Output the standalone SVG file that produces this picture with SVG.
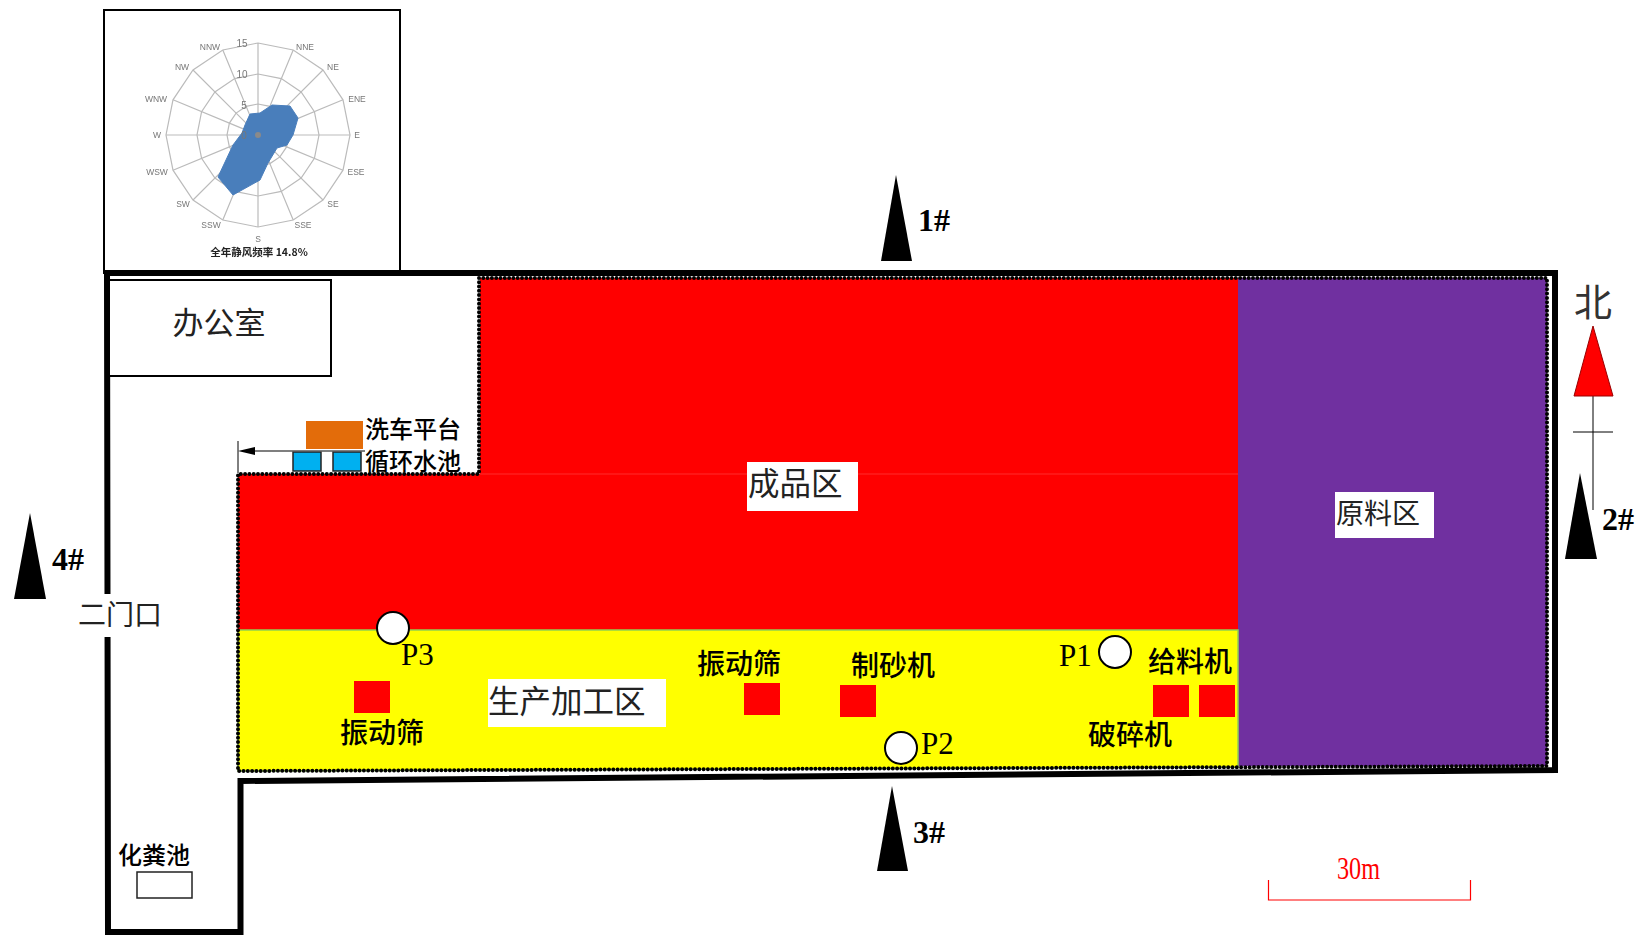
<svg xmlns="http://www.w3.org/2000/svg" width="1642" height="937" viewBox="0 0 1642 937">
<style>
text{font-family:"Liberation Serif","Noto Sans CJK SC",serif}
.zh{font-family:"Noto Sans CJK SC","Liberation Sans",sans-serif;fill:#000}
.thin{font-size:31px;fill:#222}
.lab{font-size:28px;font-weight:500}
.num{font-size:32px;font-weight:700;fill:#000}
.p{font-size:31px;fill:#000}
.tri{fill:#000}
.sq{fill:#f00}
.pt{fill:#fff;stroke:#000;stroke-width:2}
.wall{fill:none;stroke:#000;stroke-width:6;stroke-linejoin:miter}
.dots{fill:none;stroke:#000;stroke-width:4;stroke-linecap:round;stroke-dasharray:0 4.300}
.ring{fill:none;stroke:#bbb;stroke-width:1.2}
.r{font-family:"Liberation Sans",sans-serif;font-size:8.5px;fill:#777;text-anchor:middle}
.pool{fill:#00b0f0;stroke:#222;stroke-width:1.5}
</style>
<defs>
<filter id="soft" x="-5%" y="-5%" width="110%" height="110%"><feGaussianBlur stdDeviation="0.35"/></filter>
</defs>
<rect width="1642" height="937" fill="#fff"/>

<g id="wind-rose">
<rect x="104" y="10" width="296" height="263" fill="#fff" stroke="#000" stroke-width="2"/>
<g filter="url(#soft)">
<g transform="translate(258,135)">
<polygon class="ring" points="0,-92 35.2,-85 65,-65 85,-35.2 92,0 85,35.2 65,65 35.2,85 0,92 -35.2,85 -65,65 -85,35.2 -92,0 -85,-35.2 -65,-65 -35.2,-85"/>
<polygon class="ring" points="0,-61 23.3,-56.400 43.100,-43.100 56.400,-23.300 61,0 56.400,23.300 43.100,43.100 23.300,56.400 0,61 -23.300,56.400 -43.100,43.100 -56.400,23.300 -61,0 -56.400,-23.300 -43.100,-43.100 -23.300,-56.400"/>
<polygon class="ring" points="0,-31 11.900,-28.600 21.900,-21.900 28.600,-11.900 31,0 28.600,11.900 21.900,21.900 11.900,28.600 0,31 -11.900,28.600 -21.900,21.900 -28.600,11.900 -31,0 -28.600,-11.900 -21.900,-21.900 -11.900,-28.600"/>
<path d="M0,-92V92M-92,0H92M-35.2,-85L35.2,85M35.2,-85L-35.2,85M-65,-65L65,65M65,-65L-65,65M-85,-35.2L85,35.2M85,-35.2L-85,35.2" fill="none" stroke="#bbb" stroke-width="1.2"/>
</g>
<polygon points="272,105 290,106 298,118 293,135 287,145 277,148 268,163 260,180 233,195 218,177 233,145 242,133 245,125 250,114 260,113" fill="#4a7ebb" stroke="#4a7ebb"/>
<circle cx="258" cy="135" r="3" fill="#8a8a8a"/>
<text class="r" x="210" y="50">NNW</text><text class="r" x="242" y="47" style="font-size:10px">15</text><text class="r" x="305" y="50">NNE</text>
<text class="r" x="182" y="70">NW</text><text class="r" x="333" y="70">NE</text><text class="r" x="242" y="78" style="font-size:10px">10</text>
<text class="r" x="156" y="102">WNW</text><text class="r" x="357" y="102">ENE</text><text class="r" x="244" y="109" style="font-size:10px">5</text>
<text class="r" x="157" y="138">W</text><text class="r" x="357" y="138">E</text><text class="r" x="244" y="139" style="font-size:10px">0</text>
<text class="r" x="157" y="175">WSW</text><text class="r" x="356" y="175">ESE</text>
<text class="r" x="183" y="207">SW</text><text class="r" x="333" y="207">SE</text>
<text class="r" x="211" y="228">SSW</text><text class="r" x="303" y="228">SSE</text>
<text class="r" x="258" y="242">S</text>
<text x="259" y="256" text-anchor="middle" style="font-family:'Noto Sans CJK SC','Liberation Sans',sans-serif;font-size:10.5px;font-weight:700;fill:#222">全年静风频率 14.8%</text>
</g>
</g>

<g id="zones">
<polygon id="finished-zone" points="480,278 1238,278 1238,630 238,630 238,474 480,474" fill="#f00"/>
<path d="M480,474H1238" stroke="#ff4040" stroke-width="0.7"/>
<rect id="raw-zone" x="1238" y="278" width="309" height="488" fill="#7030a0"/>
<polygon id="process-zone" points="238,630 1238,630 1238,767 238,771" fill="#ff0" stroke="#92d050" stroke-width="1.5"/>
<path class="dots" d="M479,278H1547V766L238,771V474H479Z"/>
</g>

<g id="site-wall">
<path class="wall" d="M107,273 L1555,273 L1555,770 L240.500,781 L240.500,932 L108,932 Z"/>
<rect x="78" y="594" width="36" height="43" fill="#fff"/>
</g>

<g id="office">
<rect x="109" y="280" width="222" height="96" fill="#fff" stroke="#000" stroke-width="2"/>
<text class="zh thin" x="219" y="334" text-anchor="middle">办公室</text>
</g>

<g id="wash-platform">
<rect x="306" y="421" width="57" height="28" fill="#e36c0a"/>
<text class="zh" x="365" y="438" font-size="24" font-weight="500">洗车平台</text>
</g>
<g id="pools">
<rect class="pool" x="293" y="452" width="28" height="19"/>
<rect class="pool" x="333" y="452" width="28" height="19"/>
<text class="zh" x="365" y="470" font-size="24" font-weight="500">循环水池</text>
</g>

<g id="connectors">
<path d="M255,451H365" stroke="#555" stroke-width="1.5" fill="none"/>
<path d="M238,441V473" stroke="#000" stroke-width="1" fill="none"/>
<polygon points="238,451 255,447 255,455" fill="#000"/>
</g>

<g id="zone-labels">
<rect x="747" y="462" width="111" height="49" fill="#fff"/>
<text class="zh thin" x="748" y="495" style="font-size:31.500px">成品区</text>
<rect x="1335" y="492" width="99" height="46" fill="#fff"/>
<text class="zh thin" x="1336" y="524" style="font-size:28px">原料区</text>
<rect x="488" y="679" width="178" height="48" fill="#fff"/>
<text class="zh thin" x="488" y="713" style="font-size:31.500px">生产加工区</text>
<text class="zh thin" x="78" y="625" style="font-size:28px">二门口</text>
</g>

<g id="machines">
<rect class="sq" x="354" y="681" width="36" height="32"/>
<rect class="sq" x="744" y="683" width="36" height="32"/>
<rect class="sq" x="840" y="685" width="36" height="32"/>
<rect class="sq" x="1153" y="685" width="36" height="32"/>
<rect class="sq" x="1199" y="685" width="36" height="32"/>
<text class="zh lab" x="340" y="743">振动筛</text>
<text class="zh lab" x="697" y="674">振动筛</text>
<text class="zh lab" x="851" y="676">制砂机</text>
<text class="zh lab" x="1148" y="672">给料机</text>
<text class="zh lab" x="1088" y="745">破碎机</text>
</g>

<g id="septic-tank">
<rect x="137" y="872" width="55" height="26" fill="#fff" stroke="#222" stroke-width="1.5"/>
<text class="zh" x="118" y="864" font-size="24" font-weight="500">化粪池</text>
</g>

<g id="monitor-points">
<circle class="pt" cx="1115" cy="652" r="16"/><text class="p" x="1059" y="666">P1</text>
<circle class="pt" cx="901" cy="748" r="16"/><text class="p" x="921" y="754">P2</text>
<circle class="pt" cx="393" cy="628" r="16"/><text class="p" x="401" y="665">P3</text>
</g>

<g id="wind-markers">
<polygon class="tri" points="896,175 881,261 912,261"/><text class="num" x="918" y="231">1#</text>
<polygon class="tri" points="1580,473 1565,559 1597,559"/><text class="num" x="1602" y="530">2#</text>
<polygon class="tri" points="892,786 877,871 908,871"/><text class="num" x="913" y="843">3#</text>
<polygon class="tri" points="30,513 14,599 46,599"/><text class="num" x="52" y="570">4#</text>
</g>

<g id="north-arrow">
<path d="M1593,396V510M1573,432H1613" stroke="#000" stroke-width="1" fill="none"/>
<polygon points="1593,326 1574,396 1613,396" fill="#f00" stroke="#900" stroke-width="1"/>
<text class="zh" x="1574" y="316" font-size="38" style="fill:#333">北</text>
</g>

<g id="scale-bar">
<path d="M1268.500,880V900H1470.500V880" fill="none" stroke="#f00" stroke-width="1.200"/>
<text x="1337" y="879" font-size="31" fill="#f00" textLength="43" lengthAdjust="spacingAndGlyphs">30m</text>
</g>
</svg>
